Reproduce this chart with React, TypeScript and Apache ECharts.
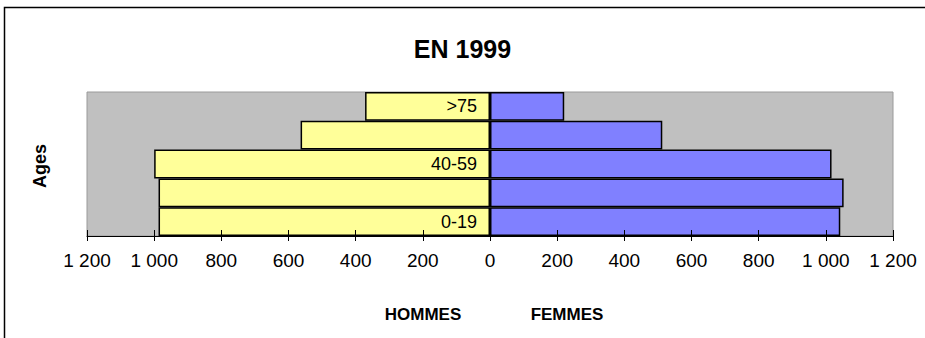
import React, { useEffect, useRef } from "react";
import * as echarts from "echarts";

// Age pyramid, 1999
const ageGroups = ["0-19", "20-39", "40-59", "60-74", ">75"];
const hommes = [987, 987, 1000, 564, 372];
const femmes = [1043, 1053, 1017, 513, 221];
const axisMin = -1200;
const axisMax = 1200;
const axisStep = 200;

const FONT = "'Liberation Sans', Arial, sans-serif";

const fmtThousands = (v: number) =>
  String(Math.abs(v)).replace(/\B(?=(\d{3})+(?!\d))/g, " ");

export default function App() {
  const ref = useRef<HTMLDivElement>(null);

  useEffect(() => {
    if (!ref.current) return;
    const chart = echarts.init(ref.current, null, { renderer: "svg" });
    const grid = { left: 87, right: 32, top: 92, bottom: 102 };
    chart.setOption({
      animation: false,
      backgroundColor: "#ffffff",
      textStyle: { fontFamily: FONT },
      title: {
        text: "EN 1999",
        left: "center",
        top: 31,
        textStyle: { fontFamily: FONT, fontSize: 25, fontWeight: "bold", color: "#000" },
      },
      grid: {
        ...grid,
        show: true,
        backgroundColor: "#C0C0C0",
        borderColor: "#9a9a9a",
        borderWidth: 1,
      },
      xAxis: [
        {
          type: "value",
          min: axisMin,
          max: axisMax,
          interval: axisStep,
          position: "bottom",
          z: 5,
          axisLine: { show: true, lineStyle: { color: "#000", width: 1 } },
          axisTick: { show: true, length: 5, lineStyle: { color: "#000" } },
          splitLine: { show: false },
          axisLabel: {
            formatter: (v: number) => fmtThousands(v),
            color: "#000",
            fontSize: 19,
            fontFamily: FONT,
            margin: 15,
          },
        },
        {
          type: "value",
          min: axisMin,
          max: axisMax,
          interval: axisStep,
          position: "bottom",
          z: 5,
          axisLine: { show: false },
          axisTick: { show: true, inside: true, length: 6, lineStyle: { color: "#000" } },
          splitLine: { show: false },
          axisLabel: { show: false },
        },
      ],
      yAxis: {
        type: "category",
        data: ageGroups,
        axisLine: { show: false },
        axisTick: { show: false },
        axisLabel: { show: false },
        splitLine: { show: false },
      },
      series: [
        {
          name: "HOMMES",
          type: "bar",
          xAxisIndex: 0,
          data: hommes.map((v) => -v),
          barGap: "-100%",
          barCategoryGap: "0%",
          itemStyle: { color: "#FFFF99", borderColor: "#000", borderWidth: 1.5 },
          // Age-group labels sit inside the men's bars, next to the zero line
          label: {
            show: true,
            position: "insideRight",
            distance: 13,
            color: "#000",
            fontSize: 18,
            fontFamily: FONT,
            formatter: (p: any) => (p.dataIndex % 2 === 0 ? ageGroups[p.dataIndex] : ""),
          },
        },
        {
          name: "FEMMES",
          type: "bar",
          xAxisIndex: 0,
          data: femmes,
          barGap: "-100%",
          barCategoryGap: "0%",
          itemStyle: { color: "#8080FF", borderColor: "#000", borderWidth: 1.5 },
        },
      ],
      graphic: [
        {
          type: "rect",
          shape: { x: 4.5, y: 7.5, width: 2000, height: 2000 },
          style: { fill: "none", stroke: "#000", lineWidth: 1.5 },
          silent: true,
        },
        {
          type: "text",
          x: 40,
          y: 166,
          rotation: Math.PI / 2,
          style: {
            text: "Ages",
            font: `bold 18px ${FONT}`,
            fill: "#000",
            align: "center",
            verticalAlign: "middle",
          },
        },
        {
          type: "text",
          x: 423,
          y: 314,
          style: {
            text: "HOMMES",
            font: `bold 17px ${FONT}`,
            fill: "#000",
            align: "center",
            verticalAlign: "middle",
          },
        },
        {
          type: "text",
          x: 567,
          y: 314,
          style: {
            text: "FEMMES",
            font: `bold 17px ${FONT}`,
            fill: "#000",
            align: "center",
            verticalAlign: "middle",
          },
        },
      ],
    });
    return () => chart.dispose();
  }, []);

  return (
    <div
      ref={ref}
      style={{ position: "fixed", left: 0, top: 0, width: 925, height: 338 }}
    />
  );
}
